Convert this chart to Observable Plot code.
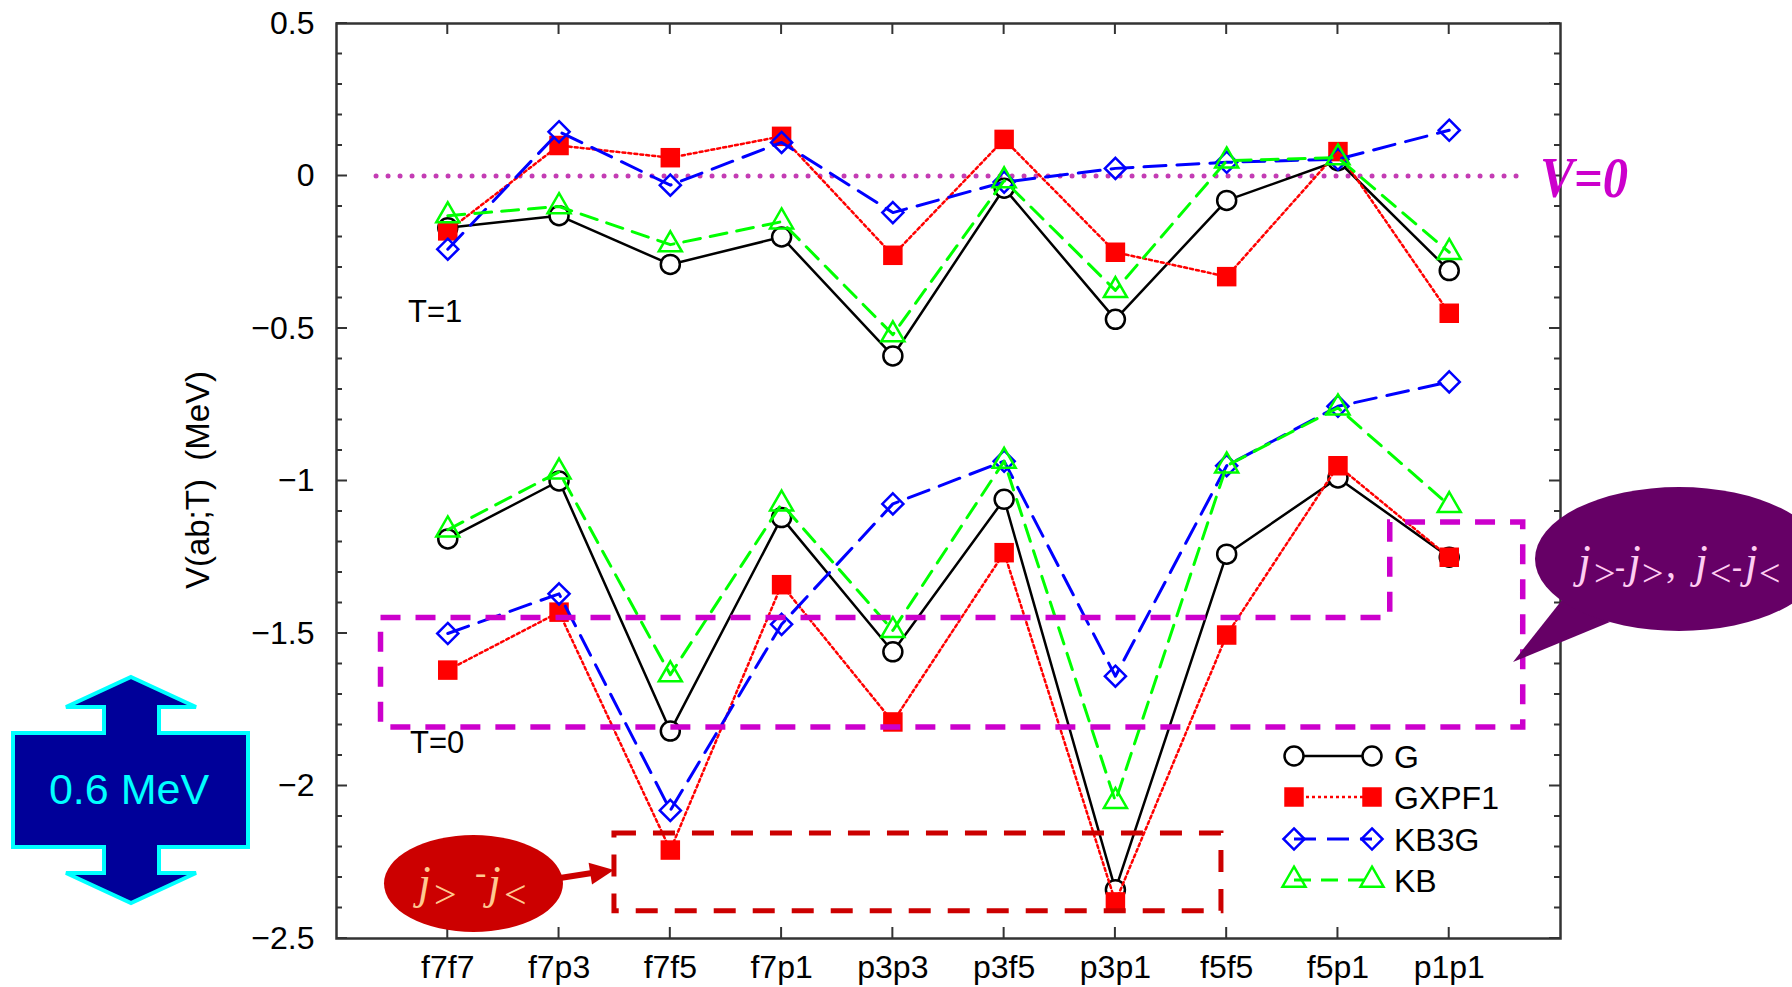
<!DOCTYPE html>
<html><head><meta charset="utf-8">
<script src="https://cdn.jsdelivr.net/npm/d3@7"></script>
<script src="https://cdn.jsdelivr.net/npm/@observablehq/plot@0.6"></script>
<style>
html,body{margin:0;padding:0;background:#fff;overflow:hidden;}
svg{display:block;}
svg text{white-space:pre;}
</style>
</head><body><div id="chart"></div>
<script>
// ---------- data ----------
const categories = ["f7f7","f7p3","f7f5","f7p1","p3p3","p3f5","p3p1","f5f5","f5p1","p1p1"];
const seriesNames = ["G","GXPF1","KB3G","KB"];
// T = 1
const G_T1     = [-0.17,-0.13,-0.29,-0.20,-0.59,-0.04,-0.47,-0.08, 0.05,-0.31];
const GXPF1_T1 = [-0.18, 0.10, 0.06, 0.13,-0.26, 0.12,-0.25,-0.33, 0.08,-0.45];
const KB3G_T1  = [-0.24, 0.145,-0.03,0.11,-0.12,-0.02, 0.025,0.045,0.055,0.15];
const KB_T1    = [-0.13,-0.10,-0.225,-0.15,-0.52,-0.015,-0.375,0.05,0.06,-0.25];
// T = 0
const G_T0     = [-1.19,-1.00,-1.82,-1.12,-1.56,-1.06,-2.34,-1.24,-0.99,-1.25];
const GXPF1_T0 = [-1.62,-1.43,-2.21,-1.34,-1.79,-1.235,-2.38,-1.505,-0.95,-1.25];
const KB3G_T0  = [-1.50,-1.37,-2.08,-1.47,-1.075,-0.935,-1.64,-0.95,-0.755,-0.675];
const KB_T0    = [-1.16,-0.97,-1.635,-1.075,-1.49,-0.935,-2.05,-0.95,-0.76,-1.08];
const yTicks = [0.5, 0, -0.5, -1, -1.5, -2, -2.5];
const yLabel = "V(ab;T)  (MeV)";

const valuesBySeries = {
  G: {T1: G_T1, T0: G_T0},
  GXPF1: {T1: GXPF1_T1, T0: GXPF1_T0},
  KB3G: {T1: KB3G_T1, T0: KB3G_T0},
  KB: {T1: KB_T1, T0: KB_T0}
};
const rows = [];
for (const s of seriesNames) {
  for (const T of ["T1","T0"]) {
    valuesBySeries[s][T].forEach((v, i) => rows.push({series: s, T, cat: categories[i], i: i + 1, v}));
  }
}

// ---------- styles ----------
const st = {
  G:     {stroke:"#000000", dash:null,    width:2.5, symbol:"circle",    fill:"#ffffff", dotStroke:"#000000", r:9.5},
  GXPF1: {stroke:"#ff0000", dash:"3 3",   width:2.5, symbol:"square",    fill:"#ff0000", dotStroke:"none",    r:11},
  KB3G:  {stroke:"#0000ff", dash:"22 11", width:3,   symbol:"diamond2",  fill:"none",    dotStroke:"#0000ff", r:9.5},
  KB:    {stroke:"#00ff00", dash:"17 10", width:3,   symbol:"triangle2", fill:"none",    dotStroke:"#00ff00", r:11}
};

const seriesMarks = [];
for (const s of seriesNames) {
  const d = rows.filter(r => r.series === s);
  const o = st[s];
  seriesMarks.push(Plot.line(d, {x:"i", y:"v", z:"T", stroke:o.stroke, strokeWidth:o.width, strokeDasharray:o.dash}));
  seriesMarks.push(Plot.dot(d, {x:"i", y:"v", symbol:o.symbol, r:o.r, fill:o.fill, stroke:o.dotStroke, strokeWidth:2.5}));
}

const chart = Plot.plot({
  width: 1792, height: 987,
  marginLeft: 336, marginRight: 232, marginTop: 23, marginBottom: 49,
  style: {fontFamily: "'Liberation Sans', Arial, Helvetica, sans-serif", fontSize: "32px", background: "#fff", overflow: "visible"},
  x: {type: "linear", domain: [0, categories.length + 1]},
  y: {type: "linear", domain: [-2.5, 0.5]},
  marks: [
    Plot.axisX(categories.map((c, i) => i + 1), {tickFormat: k => categories[k - 1], tickSize: 0, tickPadding: 17, label: null}),
    Plot.axisY(yTicks, {tickFormat: d3.format("~g"), tickSize: 0, tickPadding: 22, label: null}),
    Plot.ruleY([0], {x1: 0.36, x2: 10.64, stroke: "#c43cb4", strokeWidth: 5, strokeDasharray: "0 12", strokeLinecap: "round"}),
    ...seriesMarks,
    Plot.frame({stroke: "#333", strokeWidth: 2.5})
  ]
});
document.getElementById("chart").append(chart);

// ---------- decorations ----------
const svg = d3.select(chart);
const sx = chart.scale("x"), sy = chart.scale("y");
const X = v => sx.apply(v), Y = v => sy.apply(v);
const deco = svg.append("g").attr("text-anchor", "start");

// inward ticks on all four sides
const tg = deco.append("g").attr("stroke", "#333").attr("stroke-width", 2);
const xl = X(0), xr = X(categories.length + 1), yb = Y(-2.5), yt = Y(0.5);
for (let k = -25; k <= 5; k++) {
  const yy = Y(k / 10), L = (k % 5 === 0) ? 11 : 6;
  tg.append("line").attr("x1", xl).attr("x2", xl + L).attr("y1", yy).attr("y2", yy);
  tg.append("line").attr("x1", xr).attr("x2", xr - L).attr("y1", yy).attr("y2", yy);
}
categories.forEach((c, i) => {
  const xx = X(i + 1);
  tg.append("line").attr("x1", xx).attr("x2", xx).attr("y1", yb).attr("y2", yb - 11);
  tg.append("line").attr("x1", xx).attr("x2", xx).attr("y1", yt).attr("y2", yt + 11);
});

// y axis title
deco.append("text").attr("transform", "translate(209,480) rotate(-90)")
  .attr("text-anchor", "middle").attr("font-size", 33).attr("fill", "#000").text(yLabel);

// T labels
deco.append("text").attr("x", 408).attr("y", 322).attr("font-size", 31).text("T=1");
deco.append("text").attr("x", 410).attr("y", 753).attr("font-size", 31).text("T=0");

// legend
const symMap = {circle: d3.symbolCircle, square: d3.symbolSquare, diamond2: d3.symbolDiamond2, triangle2: d3.symbolTriangle2};
const legY = [756, 797, 839, 880];
seriesNames.forEach((s, k) => {
  const o = st[s], y = legY[k];
  deco.append("line").attr("x1", 1294).attr("x2", 1372).attr("y1", y).attr("y2", y)
    .attr("stroke", o.stroke).attr("stroke-width", o.width).attr("stroke-dasharray", o.dash);
  for (const xx of [1294, 1372]) {
    deco.append("path").attr("d", d3.symbol(symMap[o.symbol], Math.PI * o.r * o.r)())
      .attr("transform", `translate(${xx},${y})`)
      .attr("fill", o.fill).attr("stroke", o.dotStroke).attr("stroke-width", 2.5);
  }
  deco.append("text").attr("x", 1394).attr("y", y + 11.5).attr("font-size", 32).attr("fill", "#000").text(s);
});

// magenta dashed outline (T=0 j>-j> , j<-j< region)
const mag = [[0.40,-1.449],[9.47,-1.449],[9.47,-1.136],[10.665,-1.136],[10.665,-1.808],[0.40,-1.808]];
deco.append("path").attr("d", "M" + mag.map(p => `${X(p[0])},${Y(p[1])}`).join("L") + "Z")
  .attr("fill", "none").attr("stroke", "#cc00cc").attr("stroke-width", 5.5).attr("stroke-dasharray", "20 15");

// red dashed box
deco.append("rect").attr("x", X(2.498)).attr("y", Y(-2.156)).attr("width", X(7.953) - X(2.498)).attr("height", Y(-2.411) - Y(-2.156))
  .attr("fill", "none").attr("stroke", "#cc0000").attr("stroke-width", 5).attr("stroke-dasharray", "22 17");

// red ellipse with arrow
deco.append("ellipse").attr("cx", 473.5).attr("cy", 883.5).attr("rx", 89.5).attr("ry", 48.5).attr("fill", "#cc0000");
deco.append("line").attr("x1", 560).attr("y1", 878).attr("x2", 592).attr("y2", 873).attr("stroke", "#cc0000").attr("stroke-width", 6);
deco.append("polygon").attr("points", "614,870 592,884.5 588.6,862.7").attr("fill", "#cc0000");

function glyphs(list, color) {
  for (const g of list) {
    deco.append("text").attr("x", g.x).attr("y", g.y).attr("font-size", g.s).attr("text-anchor", "start")
      .attr("font-family", "'Liberation Serif', 'Times New Roman', serif")
      .attr("font-style", g.i ? "italic" : "normal").attr("font-weight", g.b ? "bold" : "normal")
      .attr("fill", color).text(g.t);
  }
}
glyphs([
  {t:"j", x:418, y:898, s:46, i:true},
  {t:">", x:434, y:908, s:40},
  {t:"-", x:475, y:884, s:34},
  {t:"j", x:488, y:898, s:46, i:true},
  {t:"<", x:504, y:908, s:40}
], "#ffc890");

// purple speech bubble
deco.append("path").attr("d", "M1562,600 L1513,662 L1610,622 Z").attr("fill", "#660066");
deco.append("ellipse").attr("cx", 1679).attr("cy", 559).attr("rx", 144).attr("ry", 72).attr("fill", "#660066");
glyphs([
  {t:"j", x:1578, y:577, s:46, i:true},
  {t:">", x:1594, y:586, s:38},
  {t:"-", x:1615, y:577, s:30, b:true},
  {t:"j", x:1628, y:577, s:46, i:true},
  {t:">", x:1642, y:586, s:38},
  {t:",", x:1666, y:577, s:40},
  {t:"j", x:1695, y:577, s:46, i:true},
  {t:"<", x:1710, y:586, s:38},
  {t:"-", x:1732, y:577, s:30, b:true},
  {t:"j", x:1745, y:577, s:46, i:true},
  {t:"<", x:1759, y:586, s:38}
], "#ffcdf2");

// V=0 label
deco.append("text").attr("x", 1540).attr("y", 197).attr("font-size", 56).attr("text-anchor", "start")
  .attr("font-family", "'Liberation Serif', 'Times New Roman', serif")
  .attr("font-style", "italic").attr("font-weight", "bold").attr("fill", "#cc00cc")
  .attr("textLength", 88).attr("lengthAdjust", "spacingAndGlyphs").text("V=0");

// 0.6 MeV double arrow
const arrowPts = [[131,677],[196,707],[159,707],[159,733],[248,733],[248,847],[159,847],[159,873],[196,873],[131,903],
  [66,873],[104,873],[104,847],[13,847],[13,733],[104,733],[104,707],[66,707]];
deco.append("polygon").attr("points", arrowPts.map(p => p.join(",")).join(" "))
  .attr("fill", "#000099").attr("stroke", "#00ffff").attr("stroke-width", 4).attr("stroke-linejoin", "miter");
deco.append("text").attr("x", 129).attr("y", 804).attr("text-anchor", "middle").attr("font-size", 43)
  .attr("fill", "#00ffff").text("0.6 MeV");
</script>
</body></html>
